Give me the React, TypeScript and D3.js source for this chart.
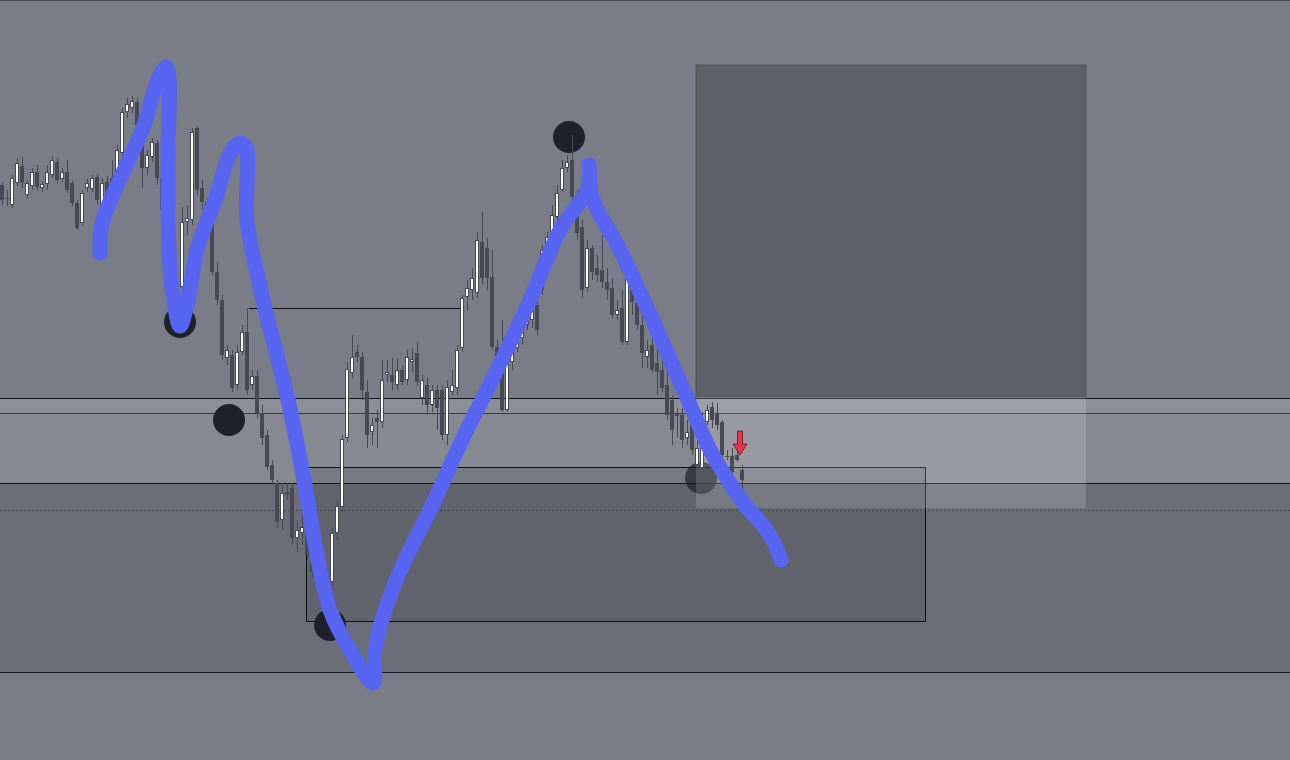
import React from 'react'
import * as d3 from 'd3'

const W = 1290
const H = 760

// candles: [open, high, low, close]
const candles: [number, number, number, number][] = [
  [2681.5, 2681.8, 2679.5, 2680.0], [2680.2, 2681.0, 2679.4, 2680.1], [2679.5, 2682.5, 2679.2, 2682.2],
  [2681.7, 2684.2, 2681.4, 2683.7], [2683.4, 2684.3, 2681.2, 2681.7], [2680.5, 2682.0, 2680.2, 2681.7],
  [2681.4, 2683.2, 2681.0, 2682.8], [2682.8, 2683.5, 2681.0, 2681.3], [2681.2, 2681.9, 2680.8, 2681.6],
  [2681.6, 2683.5, 2681.0, 2682.8], [2682.5, 2684.4, 2682.2, 2684.0], [2683.8, 2684.2, 2681.7, 2682.0],
  [2682.1, 2683.2, 2681.8, 2682.8], [2682.8, 2684.0, 2680.7, 2681.0], [2681.7, 2682.0, 2679.4, 2679.7],
  [2679.7, 2680.0, 2677.0, 2677.2], [2677.7, 2681.0, 2677.4, 2680.7], [2681.2, 2682.1, 2680.8, 2681.7],
  [2681.1, 2682.5, 2680.8, 2682.2], [2682.3, 2682.6, 2679.6, 2680.0], [2679.5, 2682.2, 2679.2, 2681.7],
  [2681.8, 2682.4, 2679.0, 2680.4], [2682.2, 2684.0, 2680.4, 2681.2], [2681.2, 2685.5, 2680.5, 2685.0],
  [2684.7, 2689.2, 2684.3, 2688.8], [2688.8, 2690.2, 2688.2, 2689.6], [2689.2, 2690.4, 2688.7, 2689.9],
  [2689.8, 2690.2, 2686.0, 2687.5], [2687.5, 2688.0, 2681.2, 2683.2], [2683.2, 2685.0, 2682.5, 2684.5],
  [2684.3, 2686.2, 2683.8, 2685.8], [2685.7, 2686.0, 2681.5, 2682.2], [2682.2, 2683.0, 2677.5, 2679.0],
  [2679.0, 2679.5, 2674.5, 2675.2], [2675.2, 2676.0, 2670.0, 2671.5], [2671.5, 2672.0, 2667.8, 2668.5],
  [2671.3, 2679.3, 2670.8, 2677.8], [2677.8, 2679.5, 2676.5, 2678.2], [2678.0, 2687.2, 2677.5, 2686.8],
  [2687.2, 2687.4, 2680.5, 2681.0], [2681.2, 2682.0, 2679.0, 2679.8], [2679.8, 2680.2, 2676.0, 2678.0],
  [2678.0, 2678.2, 2672.5, 2672.8], [2672.8, 2673.8, 2669.5, 2670.0], [2670.0, 2670.5, 2664.0, 2664.5],
  [2664.2, 2665.5, 2663.5, 2665.0], [2664.5, 2665.0, 2660.8, 2661.2], [2661.5, 2665.5, 2661.0, 2664.8],
  [2664.8, 2667.5, 2664.5, 2666.8], [2666.8, 2669.2, 2660.5, 2661.0], [2661.5, 2663.0, 2661.0, 2662.4],
  [2662.4, 2663.0, 2658.2, 2658.7], [2658.7, 2659.5, 2655.5, 2656.2], [2656.5, 2657.0, 2653.0, 2653.3],
  [2653.5, 2654.0, 2651.5, 2652.0], [2651.7, 2652.0, 2647.2, 2647.8], [2648.0, 2651.7, 2647.0, 2650.7],
  [2650.8, 2651.7, 2650.0, 2650.5], [2651.2, 2651.7, 2645.5, 2646.2], [2646.2, 2648.0, 2644.8, 2647.0],
  [2646.7, 2648.5, 2645.5, 2647.3], [2647.2, 2647.5, 2644.0, 2644.5], [2644.5, 2645.2, 2642.2, 2642.8],
  [2643.5, 2644.0, 2641.2, 2641.8], [2642.0, 2642.5, 2640.8, 2641.5], [2641.5, 2643.0, 2641.0, 2642.2],
  [2641.8, 2647.2, 2641.4, 2646.7], [2646.7, 2650.0, 2646.0, 2649.4], [2649.3, 2656.5, 2648.8, 2656.1],
  [2656.2, 2663.8, 2655.8, 2663.1], [2662.7, 2666.5, 2662.2, 2664.3], [2664.8, 2665.5, 2663.8, 2664.3],
  [2664.3, 2664.8, 2660.0, 2661.0], [2660.8, 2662.0, 2655.2, 2656.5], [2656.8, 2658.2, 2655.5, 2657.5],
  [2658.2, 2659.0, 2655.2, 2657.8], [2657.8, 2664.0, 2657.2, 2662.0], [2662.5, 2664.0, 2661.8, 2662.8],
  [2662.5, 2664.2, 2661.0, 2661.8], [2661.5, 2664.2, 2661.0, 2663.0], [2663.0, 2663.5, 2661.5, 2661.8],
  [2662.0, 2665.0, 2661.5, 2664.3], [2663.8, 2665.2, 2662.8, 2664.1], [2664.7, 2665.8, 2661.4, 2661.8],
  [2660.2, 2662.5, 2659.5, 2662.0], [2661.5, 2662.2, 2658.5, 2659.5], [2659.5, 2661.5, 2658.8, 2661.0],
  [2661.0, 2661.5, 2657.0, 2659.2], [2661.0, 2661.5, 2656.0, 2656.5], [2656.5, 2662.0, 2655.5, 2661.3],
  [2660.8, 2663.0, 2660.5, 2661.5], [2661.2, 2665.5, 2660.5, 2665.0], [2665.2, 2670.5, 2664.8, 2670.2],
  [2670.3, 2672.0, 2669.0, 2671.2], [2671.0, 2673.2, 2670.0, 2672.2], [2670.7, 2676.8, 2670.2, 2676.0],
  [2675.8, 2678.8, 2671.5, 2672.2], [2675.2, 2676.2, 2671.0, 2672.2], [2672.3, 2675.0, 2665.0, 2665.3],
  [2665.3, 2666.0, 2662.0, 2662.7], [2662.7, 2668.0, 2658.8, 2659.0], [2659.0, 2664.5, 2658.8, 2663.8],
  [2663.8, 2666.0, 2663.0, 2665.5], [2665.2, 2667.5, 2664.8, 2666.5], [2666.2, 2668.8, 2665.5, 2668.2],
  [2667.5, 2670.5, 2667.0, 2670.0], [2668.0, 2671.5, 2667.2, 2671.0], [2669.5, 2670.0, 2666.5, 2667.0],
  [2671.0, 2675.5, 2670.5, 2675.0], [2675.0, 2676.8, 2674.5, 2676.3], [2676.3, 2679.5, 2676.0, 2678.5],
  [2678.3, 2681.5, 2678.0, 2680.7], [2681.0, 2684.0, 2680.8, 2683.2], [2683.2, 2684.5, 2682.8, 2683.8],
  [2684.0, 2686.5, 2679.5, 2680.3], [2680.3, 2681.0, 2676.0, 2676.7], [2677.3, 2678.0, 2670.2, 2671.0],
  [2671.2, 2676.0, 2670.8, 2675.2], [2675.2, 2675.5, 2672.0, 2672.8], [2673.2, 2674.5, 2671.8, 2672.5],
  [2673.0, 2676.5, 2671.2, 2671.8], [2671.8, 2673.2, 2670.0, 2671.0], [2671.2, 2672.2, 2668.2, 2668.5],
  [2668.5, 2670.0, 2668.0, 2669.0], [2669.2, 2671.0, 2665.5, 2665.8], [2665.8, 2672.5, 2665.5, 2672.3],
  [2671.8, 2672.2, 2668.5, 2669.8], [2669.7, 2670.8, 2667.0, 2667.5], [2667.5, 2669.0, 2663.2, 2664.7],
  [2664.3, 2666.0, 2663.2, 2665.0], [2665.5, 2667.0, 2662.8, 2663.0], [2663.7, 2666.0, 2660.5, 2662.8],
  [2663.0, 2664.5, 2660.8, 2661.2], [2661.5, 2663.0, 2658.0, 2658.5], [2660.0, 2660.5, 2655.5, 2657.0],
  [2658.4, 2659.2, 2656.2, 2658.6], [2658.5, 2659.2, 2655.2, 2656.0], [2656.2, 2658.0, 2655.5, 2656.8],
  [2658.0, 2659.5, 2654.5, 2655.0], [2653.5, 2656.0, 2653.0, 2655.2], [2653.2, 2658.8, 2653.0, 2655.5],
  [2657.8, 2659.5, 2657.5, 2659.0], [2659.3, 2659.8, 2657.2, 2658.0], [2658.7, 2659.7, 2657.0, 2657.5],
  [2657.8, 2658.0, 2654.0, 2654.5], [2654.3, 2655.0, 2654.0, 2654.4], [2654.4, 2655.2, 2652.2, 2652.8],
  [2654.5, 2655.3, 2653.8, 2654.0], [2653.0, 2653.5, 2651.0, 2652.0],
]

// horizontal levels (price)
const levelTop = 2660.2
const levelMid = 2658.7
const levelZone = 2651.7
const levelDotted = 2649.0
const levelLow = 2632.8
const levelOld = 2669.2

// rectangles: [fromBar, toBar, topPrice, bottomPrice]
const supplyBox: [number, number, number, number] = [138.8, 216.8, 2693.5, 2660.3]
const targetBox: [number, number, number, number] = [138.8, 216.8, 2660.3, 2649.2]
const rangeBox: [number, number, number, number] = [60.8, 184.6, 2653.3, 2637.9]
const oldLevelSpan: [number, number] = [49.4, 92.0]

// swing markers: [bar, price, faded]
const swings: [number, number, number][] = [
  [35.6, 2667.8, 0], [45.4, 2658.0, 0], [113.4, 2686.3, 0], [65.6, 2637.5, 0], [139.8, 2652.2, 1],
]

// hand-drawn projection: [bar, price]
const sketch: [number, number][] = [
  [19.6, 2674.7], [19.8, 2677.2], [21.2, 2679.4], [24.6, 2683.2], [28.2, 2687.2], [30.0, 2690.2],
  [31.6, 2692.5], [32.8, 2693.3], [33.4, 2692.0], [33.2, 2685.0], [33.4, 2675.0], [34.2, 2670.5],
  [35.6, 2667.4], [37.2, 2670.0], [39.0, 2675.0], [42.6, 2680.0], [46.0, 2685.0], [47.6, 2685.7],
  [48.8, 2685.2], [49.0, 2678.0], [52.2, 2670.0], [57.2, 2660.0], [60.4, 2652.0], [63.2, 2644.0],
  [65.6, 2639.0], [69.6, 2635.0], [74.2, 2631.7], [74.6, 2635.0], [76.6, 2639.0], [80.6, 2644.0],
  [85.6, 2649.0], [92.0, 2656.0], [98.0, 2662.0], [105.6, 2670.0], [111.6, 2677.0], [117.2, 2681.2],
  [117.4, 2683.5], [118.0, 2680.3], [123.6, 2675.0], [131.0, 2667.0], [137.2, 2660.0], [141.6, 2655.0],
  [145.2, 2652.0], [148.6, 2649.5], [152.6, 2647.2], [154.6, 2645.5], [155.8, 2644.0],
]

// sell signal: [bar, price]
const signal: [number, number] = [147.6, 2654.5]

const CANDLE = '#474953'

export default function App() {
  const x = d3.scaleLinear().domain([-0.4, 257.6]).range([0, W])
  const y = d3.scaleLinear().domain([2624, 2700]).range([H, 0])

  const line = d3.line<[number, number]>()
    .x((d) => x(d[0]))
    .y((d) => y(d[1]))
    .curve(d3.curveCatmullRom.alpha(0.5))

  const box = (b: [number, number, number, number]) => ({
    x: x(b[0]), y: y(b[2]), width: x(b[1]) - x(b[0]), height: y(b[3]) - y(b[2]),
  })

  const [ax, ay] = [x(signal[0]), y(signal[1])]
  const arrow = `M${ax - 2.5},${ay - 24} L${ax + 2.5},${ay - 24} L${ax + 2.5},${ay - 11} L${ax + 7},${ay - 11} ` +
    `L${ax},${ay} L${ax - 7},${ay - 11} L${ax - 2.5},${ay - 11} Z`

  return (
    <svg width={W} height={H} style={{ position: 'absolute', left: 0, top: 0, display: 'block' }}>
      <rect width={W} height={H} fill="#7a7c87" />
      <line x1={0} x2={W} y1={0.5} y2={0.5} stroke="#4c4e58" />

      {/* zones */}
      <rect x={0} y={y(levelTop)} width={W} height={y(levelZone) - y(levelTop)} fill="#868892" />
      <rect x={0} y={y(levelTop)} width={W} height={y(levelMid) - y(levelTop)} fill="#8c8e98" />
      <rect x={0} y={y(levelZone)} width={W} height={y(levelLow) - y(levelZone)} fill="#6b6d78" />
      <rect {...box(rangeBox)} fill="#000" fillOpacity={0.09} />
      <rect {...box(supplyBox)} fill="#5e6069" stroke="#52545d" />

      {/* levels */}
      <g shapeRendering="crispEdges">
        <line x1={0} x2={W} y1={y(levelTop)} y2={y(levelTop)} stroke="#15161b" />
        <line x1={0} x2={W} y1={y(levelMid)} y2={y(levelMid)} stroke="#3b3d46" />
        <line x1={0} x2={W} y1={y(levelZone)} y2={y(levelZone)} stroke="#15161b" />
        <line x1={0} x2={W} y1={y(levelDotted)} y2={y(levelDotted)} stroke="#45474f" strokeDasharray="2 2" />
        <line x1={0} x2={W} y1={y(levelLow)} y2={y(levelLow)} stroke="#15161b" />
        <line x1={x(oldLevelSpan[0])} x2={x(oldLevelSpan[1])} y1={y(levelOld)} y2={y(levelOld)} stroke="#111" />
        <rect {...box(rangeBox)} fill="none" stroke="#111" />
      </g>

      {/* swing markers */}
      {swings.map(([b, p, f], i) => (
        <circle key={i} cx={x(b)} cy={y(p)} r={16} fill="#1e212b" fillOpacity={f ? 0.72 : 1} />
      ))}

      <rect {...box(targetBox)} fill="#fff" fillOpacity={0.15} />

      {/* candles */}
      <g shapeRendering="crispEdges">
        {candles.map(([o, h, l, c], i) => {
          const cx = x(i)
          const top = y(Math.max(o, c))
          const bh = Math.max(1, y(Math.min(o, c)) - top)
          return (
            <g key={i}>
              <rect x={cx - 0.5} y={y(h)} width={1} height={y(l) - y(h)} fill={CANDLE} />
              <rect x={cx - 2} y={top} width={4} height={bh} fill={CANDLE} />
              {c > o && bh > 2 && <rect x={cx - 1} y={top + 1} width={2} height={bh - 2} fill="#fff" />}
            </g>
          )
        })}
      </g>

      <path d={line(sketch) ?? ''} fill="none" stroke="#5865f2" strokeWidth={15}
        strokeLinecap="round" strokeLinejoin="round" />

      <path d={arrow} fill="#e8354b" stroke="#5a1a22" strokeWidth={0.8} />
    </svg>
  )
}
